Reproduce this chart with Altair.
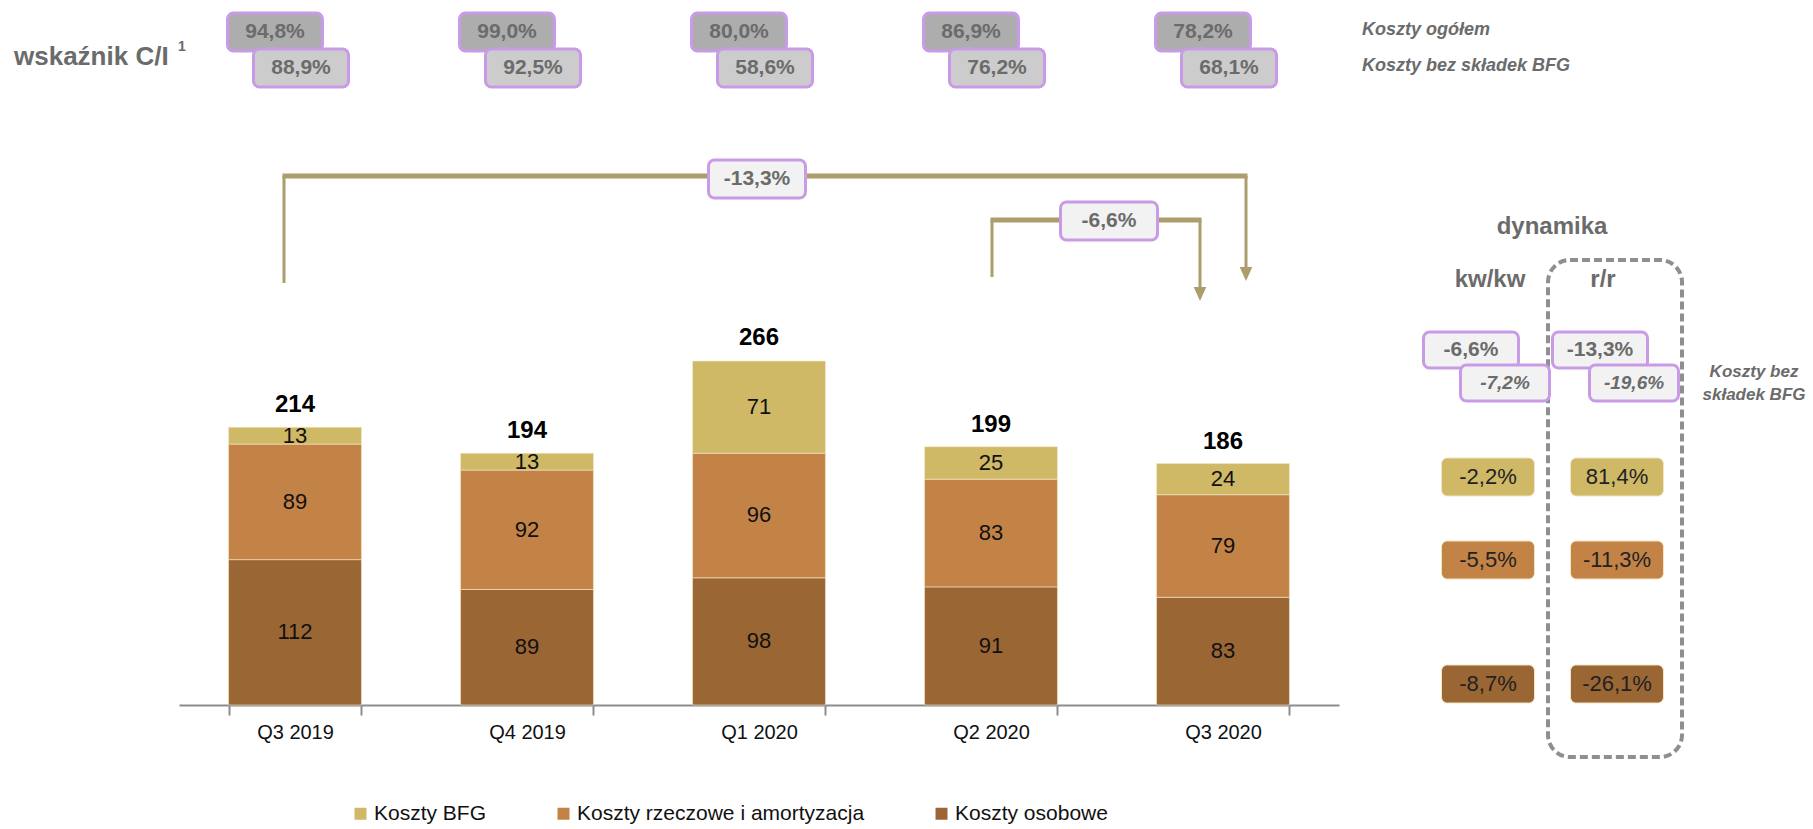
import altair as alt
import pandas as pd

# ---------------- data ----------------
quarters = ["Q3 2019", "Q4 2019", "Q1 2020", "Q2 2020", "Q3 2020"]
series_names = ["Koszty BFG", "Koszty rzeczowe i amortyzacja", "Koszty osobowe"]
koszty_bfg = [13, 13, 71, 25, 24]
koszty_rzeczowe = [89, 92, 96, 83, 79]
koszty_osobowe = [112, 89, 98, 91, 83]
totals = [214, 194, 266, 199, 186]
ci_ogolem = ["94,8%", "99,0%", "80,0%", "86,9%", "78,2%"]
ci_bez_bfg = ["88,9%", "92,5%", "58,6%", "76,2%", "68,1%"]

dyn_cols = ["kw/kw", "r/r"]
dyn_ogolem = ["-6,6%", "-13,3%"]
dyn_bez_bfg = ["-7,2%", "-19,6%"]
dyn_bfg = ["-2,2%", "81,4%"]
dyn_rzeczowe = ["-5,5%", "-11,3%"]
dyn_osobowe = ["-8,7%", "-26,1%"]

bracket_starts = ["Q3 2019", "Q2 2020"]
bracket_ends = ["Q3 2020", "Q3 2020"]
bracket_labels = ["-13,3%", "-6,6%"]

# ---------------- style ----------------
NARROW = "Liberation Sans Narrow, Arial Narrow, Liberation Sans, Arial, sans-serif"
SANS = "Liberation Sans, Arial, sans-serif"
series_colors = ["#cfb866", "#c38347", "#9a6633"]
PURPLE = "#c99be6"
BRACKET = "#ad9c6c"
GRAY_TXT = "#6b6b6b"
W, H = 1160, 697

# ---------------- tables ----------------
rows = []
for i, q in enumerate(quarters):
    for s, vals, o in [(series_names[2], koszty_osobowe, 0),
                       (series_names[1], koszty_rzeczowe, 1),
                       (series_names[0], koszty_bfg, 2)]:
        rows.append({"quarter": q, "series": s, "value": vals[i], "stack_order": o})
bars_df = pd.DataFrame(rows)
tot_df = pd.DataFrame({"quarter": quarters, "total": totals})
ci_df = pd.DataFrame({"quarter": quarters, "ogolem": ci_ogolem, "bez": ci_bez_bfg})

Y_SCALE = alt.Scale(domain=[0, 537], nice=False, zero=True)
COLOR = alt.Color(
    "series:N",
    scale=alt.Scale(domain=series_names, range=series_colors),
    legend=alt.Legend(
        title=None, orient="none", legendX=171, legendY=795, direction="horizontal",
        symbolType="square", symbolSize=144, symbolStrokeWidth=0,
        labelFont=NARROW, labelFontSize=21, labelColor="#111",
        columnPadding=66, labelOffset=3, labelLimit=0,
    ),
)


def xq(field):
    return alt.X(
        f"{field}:N", title=None, sort=quarters,
        scale=alt.Scale(domain=quarters, paddingInner=0.427, paddingOuter=0.2135),
        axis=alt.Axis(labelAngle=0, labelFont=NARROW, labelFontSize=20, labelColor="#111",
                      labelPadding=7, domainColor="#8c8c8c", domainWidth=2,
                      tickColor="#8c8c8c", tickWidth=2, tickSize=10, tickBand="extent",
                      grid=False),
    )


main_layers = []

bars = alt.Chart(bars_df).mark_bar(stroke="#f5e9cc", strokeWidth=1, strokeOpacity=0.6).encode(
    x=xq("quarter"),
    y=alt.Y("value:Q", stack="zero", scale=Y_SCALE, axis=None),
    color=COLOR,
    order=alt.Order("stack_order:Q"),
)
main_layers.append(bars)

seg_text = alt.Chart(bars_df).transform_stack(
    stack="value", groupby=["quarter"], as_=["v0", "v1"],
    sort=[alt.SortField("stack_order", order="ascending")],
).transform_calculate(mid="(datum.v0 + datum.v1) / 2").mark_text(
    font=NARROW, fontSize=22, color="#111", baseline="middle"
).encode(x=xq("quarter"), y=alt.Y("mid:Q", scale=Y_SCALE, axis=None), text="value:Q")
main_layers.append(seg_text)

tot_text = alt.Chart(tot_df).mark_text(
    font=NARROW, fontSize=24, fontWeight="bold", color="#000", baseline="middle", dy=-22
).encode(x=xq("quarter"), y=alt.Y("total:Q", scale=Y_SCALE, axis=None), text="total:Q")
main_layers.append(tot_text)

# brackets with change labels
bracket_layout = [
    dict(y=168, left_off=-11, right_off=23, left_bottom=275, tip=273,
         label_anchor="Q1 2020", label_off=-2, label_y=171, label_w=97),
    dict(y=212, left_off=1, right_off=-23, left_bottom=269, tip=293,
         label_anchor="Q2 2020", label_off=118, label_y=213, label_w=97),
]
ARROW = "M-0.9,-1L0.9,-1L0,1Z"
for k in range(len(bracket_labels)):
    L = bracket_layout[k]
    bdf = pd.DataFrame({"start": [bracket_starts[k]], "end": [bracket_ends[k]],
                        "anchor": [L["label_anchor"]], "label": [bracket_labels[k]]})
    base = alt.Chart(bdf)
    main_layers.append(base.mark_rule(color=BRACKET, strokeWidth=5,
                                      xOffset=L["left_off"] - 1.5, x2Offset=L["right_off"] + 1.5).encode(
        x=xq("start"), x2="end:N", y=alt.value(L["y"])))
    main_layers.append(base.mark_rule(color=BRACKET, strokeWidth=3, xOffset=L["left_off"]).encode(
        x=xq("start"), y=alt.value(L["y"]), y2=alt.value(L["left_bottom"])))
    main_layers.append(base.mark_rule(color=BRACKET, strokeWidth=3, xOffset=L["right_off"]).encode(
        x=xq("end"), y=alt.value(L["y"]), y2=alt.value(L["tip"] - 12)))
    main_layers.append(base.mark_point(shape=ARROW, filled=True, size=196, opacity=1,
                                       color=BRACKET, xOffset=L["right_off"]).encode(
        x=xq("end"), y=alt.value(L["tip"] - 7)))
    main_layers.append(base.mark_bar(width=L["label_w"], xOffset=L["label_off"], cornerRadius=6,
                                     fill="#f2f2f2", stroke=PURPLE, strokeWidth=3).encode(
        x=xq("anchor"), y=alt.value(L["label_y"] - 19), y2=alt.value(L["label_y"] + 19)))
    main_layers.append(base.mark_text(font=NARROW, fontSize=21, fontWeight="bold", color=GRAY_TXT,
                                      dx=L["label_off"], baseline="middle").encode(
        x=xq("anchor"), y=alt.value(L["label_y"]), text="label:N"))

# C/I boxes
ci_rows = [("ogolem", "#adadad", -20, 24), ("bez", "#cccccc", 6, 60)]
for field, fill, off, yc in ci_rows:
    main_layers.append(alt.Chart(ci_df).mark_bar(width=95, xOffset=off, cornerRadius=6, fill=fill,
                                                 stroke=PURPLE, strokeWidth=3).encode(
        x=xq("quarter"), y=alt.value(yc - 19), y2=alt.value(yc + 19)))
    main_layers.append(alt.Chart(ci_df).mark_text(font=NARROW, fontSize=21, fontWeight="bold",
                                                  color=GRAY_TXT, dx=off, baseline="middle").encode(
        x=xq("quarter"), y=alt.value(yc), text=f"{field}:N"))

# row labels for C/I
main_layers.append(alt.Chart(pd.DataFrame({"t": ["wskaźnik C/I"]})).mark_text(
    font=NARROW, fontSize=26, fontWeight="bold", color=GRAY_TXT, align="left", baseline="middle"
).encode(x=alt.value(-165), y=alt.value(49), text="t:N"))
main_layers.append(alt.Chart(pd.DataFrame({"t": ["1"]})).mark_text(
    font=NARROW, fontSize=14, fontWeight="bold", color=GRAY_TXT, align="left", baseline="middle"
).encode(x=alt.value(-1), y=alt.value(39), text="t:N"))
main_layers.append(alt.Chart(pd.DataFrame({"t": ["Koszty ogółem", "Koszty bez składek BFG"],
                                           "yy": [22, 58]})).mark_text(
    font=NARROW, fontSize=18, fontWeight="bold", fontStyle="italic", color=GRAY_TXT,
    align="left", baseline="middle"
).encode(x=alt.value(1183), y=alt.Y("yy:Q", scale=None), text="t:N"))

main = alt.layer(*main_layers)

# ---------------- dynamics panel ----------------
XD = alt.X("col:N", title=None, axis=None,
           scale=alt.Scale(type="band", domain=dyn_cols, range=[1244.5, 1502.5],
                           paddingInner=0, paddingOuter=0))
dyn_layers = []
hdr_df = pd.DataFrame({"col": dyn_cols})

dyn_layers.append(alt.Chart(hdr_df).mark_bar(
    width=134, xOffset=-2, cornerRadius=22, fill="white", fillOpacity=0,
    stroke="#8f8f8f", strokeWidth=4, strokeDash=[8, 4]
).encode(x=XD, y=alt.value(252), y2=alt.value(749)).transform_filter(alt.datum.col == "r/r"))

dyn_layers.append(alt.Chart(pd.DataFrame({"col": ["kw/kw"], "t": ["dynamika"]})).mark_text(
    font=SANS, fontSize=24, fontWeight="bold", color=GRAY_TXT, dx=64, baseline="middle"
).encode(x=XD, y=alt.value(219), text="t:N"))
for c, dx in zip(dyn_cols, [2, -14]):
    dyn_layers.append(alt.Chart(pd.DataFrame({"col": [c]})).mark_text(
        font=SANS, fontSize=24, fontWeight="bold", color=GRAY_TXT, dx=dx, baseline="middle"
    ).encode(x=XD, y=alt.value(272), text="col:N"))

purple_df = pd.DataFrame({"col": dyn_cols, "ogolem": dyn_ogolem, "bez": dyn_bez_bfg})
for field, off, yc, w, style in [("ogolem", -17, 342, 95, "normal"), ("bez", 17, 375, 89, "italic")]:
    dyn_layers.append(alt.Chart(purple_df).mark_bar(
        width=w, xOffset=off, cornerRadius=6, fill="#f2f2f2", stroke=PURPLE, strokeWidth=3
    ).encode(x=XD, y=alt.value(yc - 18), y2=alt.value(yc + 18)))
    dyn_layers.append(alt.Chart(purple_df).mark_text(
        font=SANS, fontSize=21 if style == "normal" else 19, fontWeight="bold", fontStyle=style,
        color=GRAY_TXT, dx=off, baseline="middle"
    ).encode(x=XD, y=alt.value(yc), text=f"{field}:N"))

dyn_layers.append(alt.Chart(pd.DataFrame({"col": ["r/r", "r/r"], "t": ["Koszty bez", "składek BFG"],
                                          "yy": [364, 387]})).mark_text(
    font=SANS, fontSize=17, fontWeight="bold", fontStyle="italic", color=GRAY_TXT, dx=137,
    baseline="middle"
).encode(x=XD, y=alt.Y("yy:Q", scale=None), text="t:N"))

crow = []
for s, vals in zip(series_names, [dyn_bfg, dyn_rzeczowe, dyn_osobowe]):
    for c, v in zip(dyn_cols, vals):
        crow.append({"col": c, "series": s, "label": v})
dyn_color_df = pd.DataFrame(crow)
row_y = {series_names[0]: 469, series_names[1]: 552, series_names[2]: 676}
for s in series_names:
    yc = row_y[s]
    base = alt.Chart(dyn_color_df).transform_filter(alt.datum.series == s)
    dyn_layers.append(base.mark_bar(width=93, cornerRadius=6, stroke="#f3e4c4", strokeWidth=1).encode(
        x=XD, y=alt.value(yc - 19), y2=alt.value(yc + 19), color=COLOR))
    dyn_layers.append(base.mark_text(font=SANS, fontSize=22, color="#222", baseline="middle").encode(
        x=XD, y=alt.value(yc), text="label:N"))

dyn = alt.layer(*dyn_layers)

chart = alt.layer(main, dyn).resolve_scale(x="independent").properties(
    width=W, height=H,
    padding={"left": 171, "top": 0, "right": 466, "bottom": 122},
    autosize=alt.AutoSizeParams(type="none"),
).configure_view(stroke=None)

chart.save("out.html", embed_options={"renderer": "svg", "actions": False})
